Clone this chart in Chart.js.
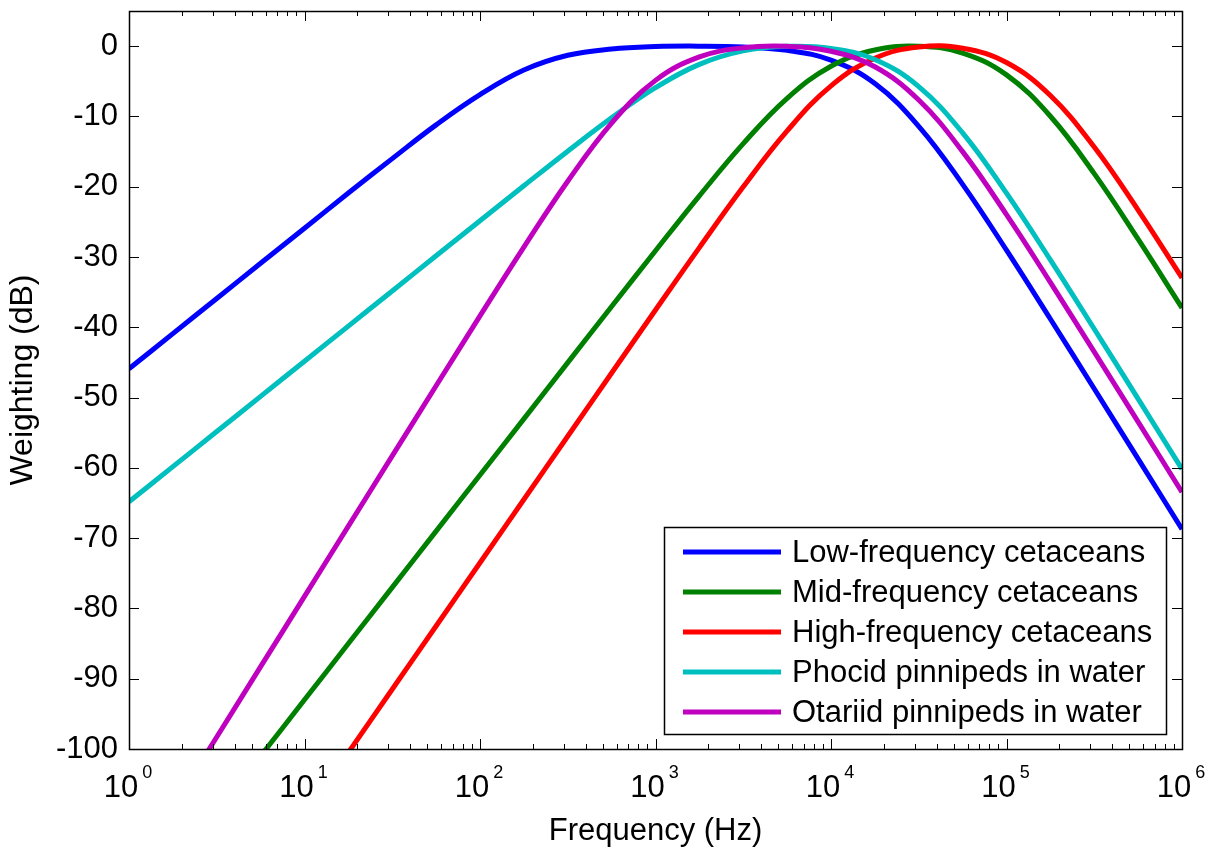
<!DOCTYPE html>
<html>
<head>
<meta charset="utf-8">
<script src="https://cdn.jsdelivr.net/npm/chart.js@4"></script>
<style>
  html, body { margin: 0; padding: 0; background: #fff; }
  #grafico { display: block; }
</style>
</head>
<body>
<canvas id="grafico" width="1216" height="849"></canvas>
<script>
// === DATA ==================================================================
// frequências (Hz), um ponto a cada 1/4 de década
const freqs = [1, 1.778, 3.162, 5.623, 10, 17.78, 31.62, 56.23, 100, 177.8, 316.2, 562.3,
  1000, 1778, 3162, 5623, 10000, 17783, 31623, 56234, 100000, 177828, 316228, 562341, 1000000];

const lowFreq  = [-45.9, -40.9, -35.9, -30.9, -25.9, -20.9, -16.0, -11.2, -6.9, -3.4, -1.3, -0.4,
  -0.06, 0.0, -0.12, -0.6, -2.0, -5.33, -11.4, -19.66, -29.03, -38.82, -48.75, -58.73, -68.72];
const midFreq  = [-125.0, -117.0, -109.0, -101.0, -93.0, -85.0, -77.0, -69.0, -61.02, -53.03, -45.03, -37.05,
  -29.11, -21.3, -13.87, -7.42, -2.86, -0.55, -0.01, -0.98, -4.09, -9.97, -18.14, -27.47, -37.25];
const highFreq = [-145.5, -136.5, -127.5, -118.5, -109.5, -100.5, -91.5, -82.5, -73.5, -64.5, -55.5, -46.5,
  -37.54, -28.66, -20.02, -12.06, -5.66, -1.71, -0.12, -0.29, -2.33, -7.02, -14.36, -23.32, -32.96];
const phocid   = [-64.83, -59.83, -54.83, -49.83, -44.83, -39.83, -34.83, -29.83, -24.84, -19.86, -14.94, -10.19,
  -5.9, -2.59, -0.68, -0.02, -0.32, -1.91, -5.76, -12.34, -20.92, -30.41, -40.24, -50.19, -60.17];
const otariid  = [-118.3, -108.3, -98.29, -88.29, -78.29, -68.29, -58.3, -48.32, -38.38, -28.59, -19.22, -10.95,
  -4.87, -1.54, -0.23, -0.03, -0.73, -2.94, -7.67, -15.01, -23.97, -33.61, -43.5, -53.46, -63.45];

const seriesLabels = ['Low-frequency cetaceans', 'Mid-frequency cetaceans', 'High-frequency cetaceans',
  'Phocid pinnipeds in water', 'Otariid pinnipeds in water'];
const seriesColors = ['#0000ff', '#008000', '#ff0000', '#00bfbf', '#bf00bf'];

const yTicks = [-100, -90, -80, -70, -60, -50, -40, -30, -20, -10, 0];
const xTickExps = [0, 1, 2, 3, 4, 5, 6];

// === HELPERS ===============================================================
const FAMILIA = "'Liberation Sans', Arial, sans-serif";
const pontos = serie => freqs.map((f, i) => ({ x: f, y: serie[i] }));

// ticks internos, caixa, rótulos 10^n e legenda (estilo MATLAB)
const moldura = {
  id: 'moldura',
  afterDatasetsDraw(chart) {
    const { ctx, chartArea: a, scales: { x, y } } = chart;
    ctx.save();
    ctx.strokeStyle = '#000';
    ctx.lineWidth = 1;
    ctx.beginPath();
    xTickExps.forEach(e => {
      const px = Math.round(x.getPixelForValue(10 ** e)) + 0.5;
      ctx.moveTo(px, a.bottom); ctx.lineTo(px, a.bottom - 10);
      ctx.moveTo(px, a.top); ctx.lineTo(px, a.top + 10);
      if (e < 6) {
        for (let m = 2; m <= 9; m++) {
          const pm = Math.round(x.getPixelForValue(m * 10 ** e)) + 0.5;
          ctx.moveTo(pm, a.bottom); ctx.lineTo(pm, a.bottom - 5);
          ctx.moveTo(pm, a.top); ctx.lineTo(pm, a.top + 5);
        }
      }
    });
    yTicks.forEach(v => {
      const py = Math.round(y.getPixelForValue(v)) + 0.5;
      ctx.moveTo(a.left, py); ctx.lineTo(a.left + 10, py);
      ctx.moveTo(a.right, py); ctx.lineTo(a.right - 10, py);
    });
    ctx.stroke();
    ctx.lineWidth = 1.5;
    ctx.strokeRect(Math.round(a.left) + 0.5, Math.round(a.top) + 0.5,
      Math.round(a.right - a.left), Math.round(a.bottom - a.top));

    // rótulos do eixo x com expoente
    ctx.fillStyle = '#000';
    ctx.textBaseline = 'alphabetic';
    ctx.textAlign = 'left';
    xTickExps.forEach(e => {
      const px = x.getPixelForValue(10 ** e);
      ctx.font = `31px ${FAMILIA}`;
      const wb = ctx.measureText('10').width;
      ctx.font = `18px ${FAMILIA}`;
      const ws = ctx.measureText(String(e)).width;
      const x0 = px - (wb + 4 + ws) / 2 - 1;
      ctx.font = `31px ${FAMILIA}`;
      ctx.fillText('10', x0, a.bottom + 48);
      ctx.font = `18px ${FAMILIA}`;
      ctx.fillText(String(e), x0 + wb + 4, a.bottom + 29);
    });
    ctx.restore();
  },
  afterDraw(chart) {
    const { ctx, chartArea: a } = chart;
    const right = a.right - 16, bottom = a.bottom - 15;
    const w = 502, h = 207;
    const left = right - w, top = bottom - h;
    ctx.save();
    ctx.fillStyle = '#fff';
    ctx.fillRect(left, top, w, h);
    ctx.strokeStyle = '#000';
    ctx.lineWidth = 1.5;
    ctx.strokeRect(Math.round(left) + 0.5, Math.round(top) + 0.5, w, h);
    ctx.font = `31px ${FAMILIA}`;
    ctx.textBaseline = 'middle';
    ctx.textAlign = 'left';
    chart.data.datasets.forEach((ds, i) => {
      const ly = top + 25 + i * 40;
      ctx.strokeStyle = ds.borderColor;
      ctx.lineWidth = 5;
      ctx.beginPath();
      ctx.moveTo(left + 19, ly); ctx.lineTo(left + 117, ly);
      ctx.stroke();
      ctx.fillStyle = '#000';
      ctx.fillText(ds.label, left + 128, ly + 1);
    });
    ctx.restore();
  }
};

// === CHART =================================================================
const ctx = document.getElementById('grafico');
const series = [lowFreq, midFreq, highFreq, phocid, otariid];

new Chart(ctx, {
  type: 'line',
  data: {
    datasets: series.map((s, i) => ({
      label: seriesLabels[i],
      data: pontos(s),
      borderColor: seriesColors[i],
      backgroundColor: seriesColors[i],
      borderWidth: 5,
      pointRadius: 0,
      tension: 0.4,
      fill: false,
      clip: 0,
      order: series.length - i   // último da lista fica por cima
    }))
  },
  options: {
    responsive: false,
    animation: false,
    devicePixelRatio: 1,
    layout: { padding: { left: 0, right: 34, top: 11, bottom: 0 } },
    plugins: {
      legend: { display: false },
      tooltip: { enabled: false }
    },
    scales: {
      x: {
        type: 'logarithmic',
        min: 1,
        max: 1e6,
        grid: { display: false, drawTicks: false },
        border: { display: false },
        ticks: { display: false },
        title: {
          display: true,
          text: 'Frequency (Hz)',
          color: '#000',
          font: { family: FAMILIA, size: 31, lineHeight: 1.1 },
          padding: { top: 0, bottom: 0 }
        },
        afterFit: s => { s.height = 100; s.paddingLeft = 0; s.paddingRight = 0; }
      },
      y: {
        min: -100,
        max: 5,
        afterBuildTicks: s => { s.ticks = yTicks.map(v => ({ value: v })); },
        grid: { display: false, drawTicks: false },
        border: { display: false },
        ticks: {
          color: '#000',
          font: { family: FAMILIA, size: 31 },
          padding: 11,
          autoSkip: false,
          callback: v => String(v)
        },
        title: {
          display: true,
          text: 'Weighting (dB)',
          color: '#000',
          font: { family: FAMILIA, size: 32 },
          padding: { top: 4, bottom: 0 }
        },
        afterFit: s => { s.width = 129; s.paddingTop = 0; s.paddingBottom = 0; }
      }
    }
  },
  plugins: [moldura]
});
</script>
</body>
</html>
